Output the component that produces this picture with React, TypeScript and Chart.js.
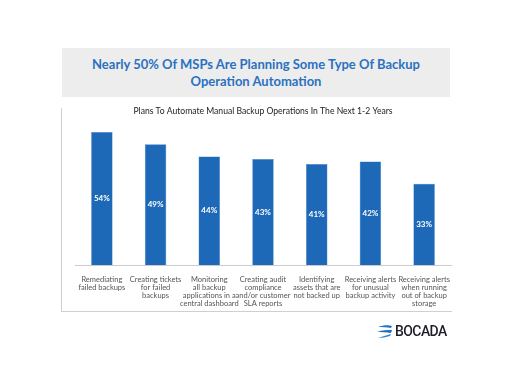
import React, { useEffect, useRef } from "react";
import { Chart, registerables } from "chart.js";

Chart.register(...registerables);

const chartTitle = "Plans To Automate Manual Backup Operations In The Next 1-2 Years";
const headline = ["Nearly 50% Of MSPs Are Planning Some Type Of Backup", "Operation Automation"];
const categories: string[][] = [
  ["Remediating", "failed backups"],
  ["Creating tickets", "for failed", "backups"],
  ["Monitoring", "all backup", "applications in a", "central dashboard"],
  ["Creating audit", "compliance", "and/or customer", "SLA reports"],
  ["Identifying", "assets that are", "not backed up"],
  ["Receiving alerts", "for unusual", "backup activity"],
  ["Receiving alerts", "when running", "out of backup", "storage"],
];
const values = [54, 49, 44, 43, 41, 42, 33];
const yMax = 60;

const valueLabels = {
  id: "valueLabels",
  afterDatasetsDraw(chart: any) {
    const ctx = chart.ctx;
    const meta = chart.getDatasetMeta(0);
    ctx.save();
    ctx.fillStyle = "#ffffff";
    ctx.font = "bold 8px Lato";
    ctx.textAlign = "center";
    ctx.textBaseline = "middle";
    meta.data.forEach((bar: any, i: number) => {
      const v = chart.data.datasets[0].data[i];
      ctx.fillText(v + "%", bar.x, (bar.y + bar.base) / 2);
    });
    ctx.restore();
  },
};

export default function App() {
  const ref = useRef<HTMLCanvasElement | null>(null);
  useEffect(() => {
    document.body.style.margin = "0";
    const chart = new Chart(ref.current!, {
      type: "bar",
      data: {
        labels: categories,
        datasets: [
          {
            data: values,
            backgroundColor: "#1e69b7",
            borderColor: "#3f83c9",
            borderWidth: 0.5,
            barPercentage: 0.4,
            categoryPercentage: 1,
          },
        ],
      },
      options: {
        animation: false,
        responsive: false,
        layout: { padding: { top: 106, left: 75, right: 61, bottom: 48 } },
        plugins: {
          legend: { display: false },
          tooltip: { enabled: false },
          title: {
            display: true,
            text: chartTitle,
            color: "#222222",
            font: { family: "Lato", size: 8.6, weight: "normal", lineHeight: 1.3 },
            padding: { top: 0, bottom: 0 },
          },
        },
        scales: {
          y: { display: false, min: 0, max: yMax },
          x: {
            grid: { display: false },
            border: { display: true, color: "#cccccc", width: 1 },
            ticks: {
              autoSkip: false,
              maxRotation: 0,
              minRotation: 0,
              color: "#555555",
              padding: 3,
              font: { family: "Lato", size: 7.5, lineHeight: 8 / 7.5 },
            },
            afterFit: (scale: any) => {
              scale.height = 60;
            },
          },
        },
      },
      plugins: [valueLabels],
    });
    return () => chart.destroy();
  }, []);

  return (
    <div style={{ position: "relative", width: 512, height: 373, background: "#fff", overflow: "hidden" }}>
      <div
        style={{
          position: "absolute",
          left: 62,
          top: 48,
          width: 388,
          height: 49,
          background: "#ededed",
          color: "#2b71c0",
          fontFamily: "Lato",
          fontWeight: 700,
          fontSize: 13,
          lineHeight: "17px",
          textAlign: "center",
          paddingTop: 8,
          boxSizing: "border-box",
        }}
      >
        {headline[0]}
        <br />
        {headline[1]}
      </div>
      <div style={{ position: "absolute", left: 61, top: 108, width: 1, height: 203, background: "#cfcfcf" }} />
      <div style={{ position: "absolute", left: 61, top: 311, width: 391, height: 1, background: "#cfcfcf" }} />
      <canvas ref={ref} width={512} height={373} style={{ position: "absolute", left: 0, top: 0 }} />
      <div style={{ position: "absolute", left: 376, top: 322, width: 80, height: 18 }}>
        <svg width="18" height="16" viewBox="0 0 18 16" style={{ position: "absolute", left: 0, top: 2 }}>
          <path d="M2 3 C7 1, 13 1, 16 2 L15 4 C11 3, 6 3, 2 3 Z" fill="#2277c8" />
          <path d="M1 8 C6 6, 12 6, 16 6 L15 9 C10 8, 5 8, 1 8 Z" fill="#1d6fc0" />
          <path d="M2 14 C7 12, 12 11, 15 10 L14 12 C10 13, 6 14, 2 14 Z" fill="#2a86d6" />
        </svg>
        <span
          style={{
            position: "absolute",
            left: 19,
            top: 0,
            fontFamily: "Roboto",
            fontWeight: 500,
            fontSize: 15.5,
            lineHeight: "18px",
            color: "#1c1c2a",
            letterSpacing: -0.6,
            transform: "scaleX(0.9)",
            transformOrigin: "left center",
            whiteSpace: "nowrap",
          }}
        >
          BOCADA
        </span>
      </div>
    </div>
  );
}
